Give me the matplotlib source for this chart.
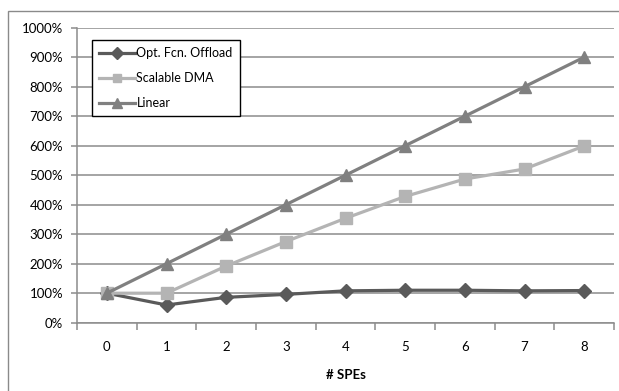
import numpy as np
import matplotlib.pyplot as plt
from matplotlib.patches import Rectangle
from matplotlib.ticker import FixedLocator, FuncFormatter

plt.rcParams['font.family'] = ['Lato', 'DejaVu Sans']

spes = [0, 1, 2, 3, 4, 5, 6, 7, 8]
opt_offload = [100, 60, 86, 96, 108, 110, 110, 108, 109]
scalable_dma = [100, 100, 192, 275, 354, 428, 487, 521, 599]
linear = [100, 200, 300, 400, 500, 600, 700, 800, 900]

fig = plt.figure(figsize=(6.19, 3.91), dpi=100)
ax = fig.add_axes([77/619, 1-322.7/391, 537/619, 295/391])

# border round the whole chart
fig.patches.append(Rectangle((8/619, -0.1), 1.0, 1 - 11/391 + 0.1,
                             transform=fig.transFigure, fill=False,
                             ec='#8a8a8a', lw=1.0))

ax.plot(spes, opt_offload, c='#5a5a5a', lw=2.3, marker='D', ms=7.5,
        label='Opt. Fcn. Offload', clip_on=False)
ax.plot(spes, scalable_dma, c='#b4b4b4', lw=2.3, marker='s', ms=8,
        label='Scalable DMA', clip_on=False)
ax.plot(spes, linear, c='#808080', lw=2.3, marker='^', ms=9,
        label='Linear', clip_on=False)

ax.set_xlim(-0.5, 8.5)
ax.set_ylim(0, 1000)
ax.set_yticks(np.arange(0, 1001, 100))
ax.yaxis.set_major_formatter(FuncFormatter(lambda v, p: '%d%%' % v))
ax.set_xticks(spes)
ax.xaxis.set_minor_locator(FixedLocator(np.arange(-0.5, 9, 1)))

ax.grid(axis='y', color='#8c8c8c', lw=1.1)
ax.set_axisbelow(True)
for s in ['top', 'right']:
    ax.spines[s].set_visible(False)
for s in ['left', 'bottom']:
    ax.spines[s].set_color('#8c8c8c')
    ax.spines[s].set_linewidth(1.1)

ax.tick_params(axis='y', length=4, width=1.1, color='#8c8c8c', pad=6, labelsize=9.5)
ax.tick_params(axis='x', which='major', length=0, pad=13, labelsize=9.5)
ax.tick_params(axis='x', which='minor', length=5, width=1.1, color='#8c8c8c')

ax.set_xlabel('# SPEs', fontweight='bold', fontsize=9.5, labelpad=12)

leg = ax.legend(loc='upper left', bbox_to_anchor=(0.028, 0.958), fontsize=9,
                fancybox=False, framealpha=1, edgecolor='black',
                handlelength=2.9, borderaxespad=0, labelspacing=1.05,
                handletextpad=0.1, markerscale=0.75, borderpad=0.55)
leg.get_frame().set_linewidth(1.0)

fig.savefig('out.png', dpi=100)
